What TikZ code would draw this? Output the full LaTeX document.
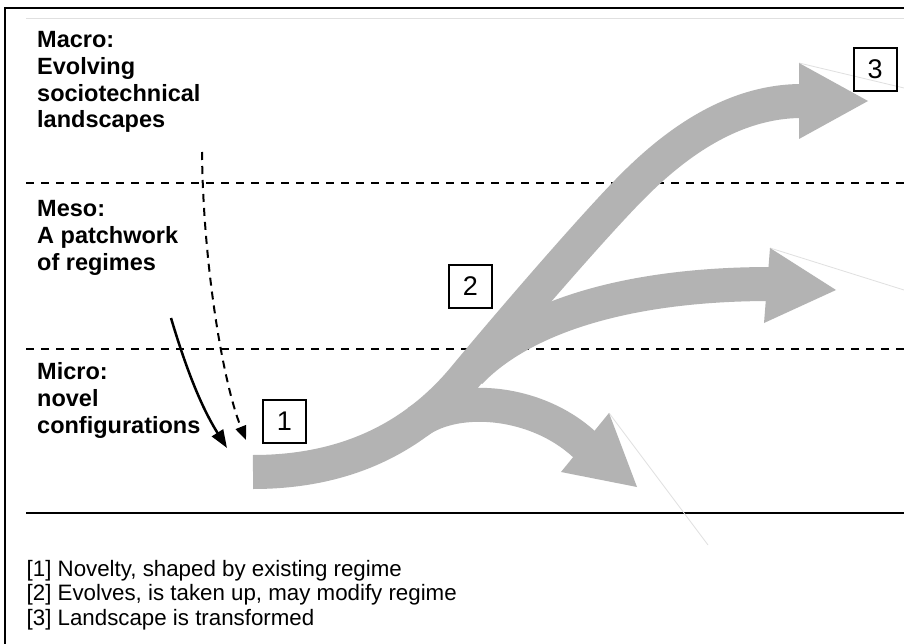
\documentclass[tikz,border=0pt]{standalone}
\usepackage{fontspec}
\setmainfont{Liberation Sans}
\usetikzlibrary{arrows.meta}
\definecolor{flow}{HTML}{B3B3B3}
\definecolor{faint}{HTML}{E0E0E0}

\begin{document}
\begin{tikzpicture}[x=1pt,y=-1pt,
  level/.style={font=\fontsize{23.5}{26.7}\selectfont\bfseries, anchor=north west, inner sep=0pt, align=left},
  legend/.style={font=\fontsize{22.3}{24.5}\selectfont, anchor=north west, inner sep=0pt, align=left},
  numbox/.style={draw=black, line width=2pt, minimum width=43pt, minimum height=43pt, inner sep=0pt, font=\fontsize{27}{27}\selectfont},
  divider/.style={line width=2pt, dash pattern=on 8pt off 7pt},
  band/.style={draw=flow, line width=34pt},
  head/.style={fill=flow},
  ghost/.style={draw=faint, line width=0.8pt},
  push/.style={line width=2.5pt, -{Triangle[length=18pt,width=13pt]}},
  drift/.style={line width=2pt, dash pattern=on 8pt off 6pt, -{Triangle[length=14pt,width=11pt]}}]

\useasboundingbox (0,0) rectangle (904,644);
\fill[white] (0,0) rectangle (904,644);

% outer frame and faint inner rule
\draw[line width=2pt] (5,644) -- (5,8.5) -- (904,8.5);
\draw[faint, line width=1pt] (26,19) -- (904,19);

% level dividers
\coordinate (d1w) at (26,183);  \coordinate (d1e) at (904,183);
\coordinate (d2w) at (26,349);  \coordinate (d2e) at (904,349);
\coordinate (d3w) at (26,513);  \coordinate (d3e) at (904,513);
\draw[divider] (d1w) -- (d1e);
\draw[divider] (d2w) -- (d2e);
\draw[line width=2.5pt] (d3w) -- (d3e);

% faint guide lines off the arrow heads
\coordinate (h3a) at (799,63);   \coordinate (g3) at (904,88);
\coordinate (h2a) at (770,248);  \coordinate (g2) at (904,290);
\coordinate (h1a) at (609,413);  \coordinate (g1) at (708,545);
\draw[ghost] (h3a) -- (g3);
\draw[ghost] (h2a) -- (g2);
\draw[ghost] (h1a) -- (g1);

% main trajectory
\coordinate (tail) at (253,472);
\coordinate (bend) at (464,378);
\coordinate (rise) at (629,190);
\coordinate (top)  at (802,101);
\draw[band] (tail) .. controls (353,472) and (419,432) .. (bend)
  .. controls (502,332) and (587,233) .. (rise)
  .. controls (671,147) and (730,101) .. (top);
\fill[head] (h3a) -- (868,101) -- (799,139) -- cycle;

% middle branch
\coordinate (m0) at (470,372);
\coordinate (m1) at (771,284);
\draw[band] (m0) .. controls (520,320) and (620,284) .. (m1);
\fill[head] (h2a) -- (836,290) -- (764,323) -- cycle;

% lower branch, leaving the main trajectory along its tangent
\coordinate (l0) at (417.5,422);
\coordinate (l1) at (588,448);
\draw[band] (l0) .. controls (457,393) and (540,400) .. (l1);
\fill[head] (h1a) -- (637,487) -- (561,472) -- cycle;

% influence arrows
\coordinate (s0) at (171,318);  \coordinate (s1) at (227,448);
\draw[push] (s0) .. controls (185,365) and (200,405) .. (s1);
\coordinate (t0) at (202,152);  \coordinate (t1) at (246,440);
\draw[drift] (t0) .. controls (203,260) and (222,380) .. (t1);

% numbered markers
\node[numbox] (n1) at (284.5,421.5) {1};
\node[numbox] (n2) at (470.5,286.5) {2};
\node[numbox] (n3) at (875,69.5) {3};

% level labels
\node[level] (macro) at (37,31.5) {Macro:\\Evolving\\sociotechnical\\landscapes};
\node[level] (meso) at (37,200.5) {Meso:\\A patchwork\\of regimes};
\node[level] (micro) at (37,362.5) {Micro:\\novel\\configurations};

% legend
\node[legend] (key) at (26.5,560) {[1] Novelty, shaped by existing regime\\{[2]} Evolves, is taken up, may modify regime\\{[3]} Landscape is transformed};
\end{tikzpicture}
\end{document}
